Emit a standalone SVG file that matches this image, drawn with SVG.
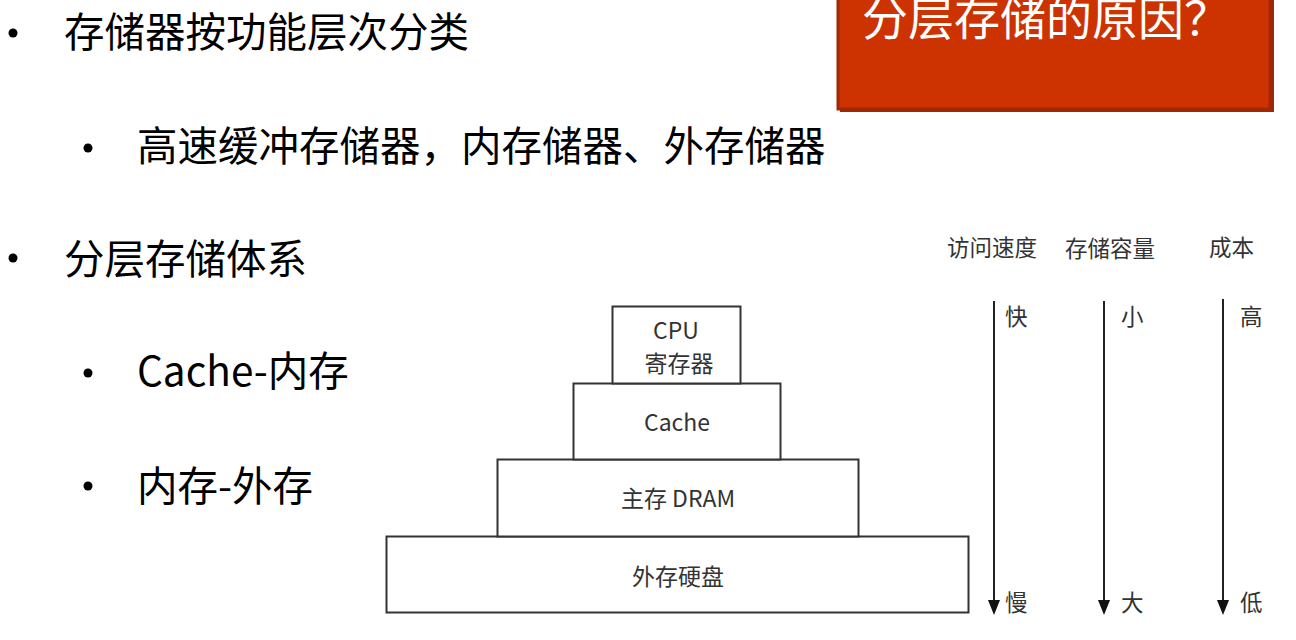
<svg xmlns="http://www.w3.org/2000/svg" width="1296" height="640" viewBox="0 0 1296 640">
<defs>
<style>
.t{font-family:"Noto Sans CJK SC","Noto Sans",sans-serif;fill:#000}
.big{font-size:40.5px}
.d{font-family:"Noto Sans CJK SC","Noto Sans",sans-serif;fill:#333;font-size:23px;text-anchor:middle}
.s{font-family:"Noto Sans CJK SC","Noto Sans",sans-serif;fill:#333;font-size:22.5px}
.box{fill:#fff;stroke:#333;stroke-width:2}
.ax{stroke:#222;stroke-width:2}
.hd{fill:#111}
</style>
</defs>
<rect width="1296" height="640" fill="#fff"/>

<g id="title-box">
<rect x="840" y="-6" width="434" height="118" fill="#9a2a08"/>
<rect x="838" y="-8" width="432" height="117" fill="#cc3300" stroke="#a32600" stroke-width="3"/>
<text x="862" y="35" font-family="'Noto Sans CJK SC','Noto Sans',sans-serif" font-size="46" fill="#fff">分层存储的原因？</text>
</g>

<g id="bullets">
<circle cx="13" cy="33" r="4.5" fill="#000"/>
<text class="t big" x="64" y="47">存储器按功能层次分类</text>
<circle cx="88" cy="148" r="4.5" fill="#000"/>
<text class="t big" x="137" y="161">高速缓冲存储器，内存储器、外存储器</text>
<circle cx="13" cy="258" r="4.5" fill="#000"/>
<text class="t big" x="64" y="274">分层存储体系</text>
<circle cx="88" cy="373" r="4.5" fill="#000"/>
<text class="t big" x="137" y="386">Cache-内存</text>
<circle cx="88" cy="486" r="4.5" fill="#000"/>
<text class="t big" x="137" y="501">内存-外存</text>
</g>

<g id="disk">
<rect class="box" x="386.5" y="536.5" width="582" height="76"/>
<text class="d" x="678" y="585">外存硬盘</text>
</g>
<g id="dram">
<rect class="box" x="497.5" y="459.5" width="361" height="77"/>
<text class="d" x="678" y="507">主存 DRAM</text>
</g>
<g id="cache">
<rect class="box" x="573.5" y="383.5" width="207" height="76"/>
<text class="d" x="677" y="431">Cache</text>
</g>
<g id="cpu">
<rect class="box" x="612.5" y="306.5" width="128" height="77"/>
<text class="d" x="676" y="339">CPU</text>
<text class="d" x="679" y="372">寄存器</text>
</g>

<g id="headers">
<text class="s" x="947" y="256">访问速度</text>
<text class="s" x="1065" y="257">存储容量</text>
<text class="s" x="1209" y="256">成本</text>
</g>

<g id="connectors">
<line class="ax" x1="994" y1="301" x2="994" y2="601"/>
<path class="hd" d="M988,600 L1000,600 L994,615 Z"/>
<line class="ax" x1="1104" y1="301" x2="1104" y2="601"/>
<path class="hd" d="M1098,600 L1110,600 L1104,615 Z"/>
<line class="ax" x1="1223" y1="299" x2="1223" y2="601"/>
<path class="hd" d="M1217,600 L1229,600 L1223,615 Z"/>
</g>

<g id="axis-labels">
<text class="s" x="1005" y="325">快</text>
<text class="s" x="1121" y="325">小</text>
<text class="s" x="1240" y="325">高</text>
<text class="s" x="1005" y="611">慢</text>
<text class="s" x="1121" y="611">大</text>
<text class="s" x="1240" y="611">低</text>
</g>
</svg>
